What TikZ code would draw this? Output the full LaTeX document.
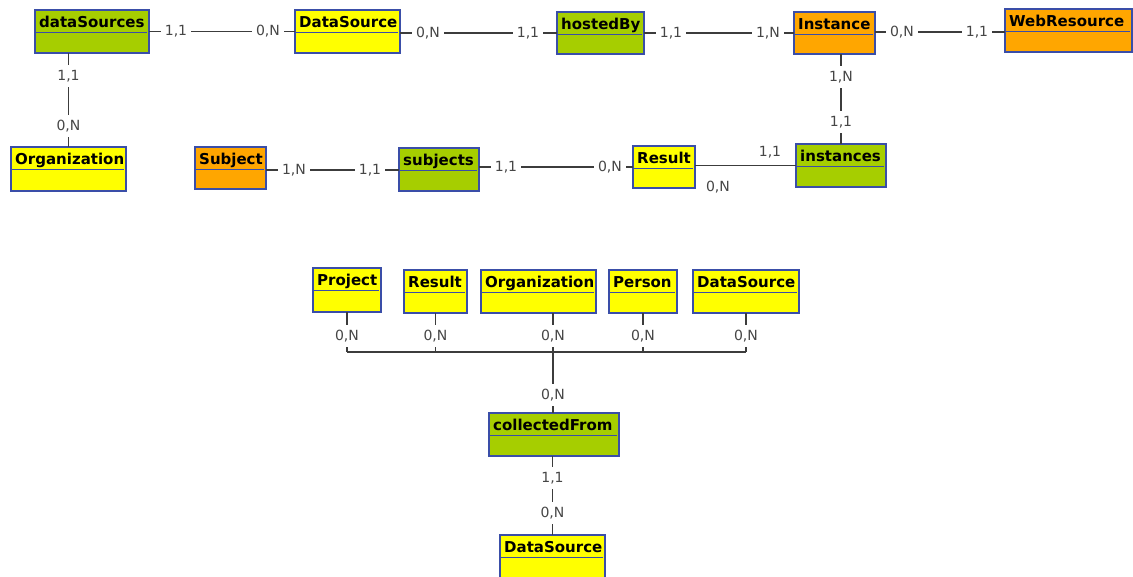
\documentclass[tikz,border=0pt]{standalone}
\usepackage{fontspec}
\setmainfont{DejaVu Sans}
\usetikzlibrary{calc}

\definecolor{entgreen}{RGB}{166,206,0}
\definecolor{entyellow}{RGB}{255,255,0}
\definecolor{entorange}{RGB}{255,166,0}
\definecolor{entborder}{RGB}{58,78,168}
\definecolor{linkgray}{RGB}{60,60,60}
\definecolor{labelgray}{RGB}{70,70,70}

\tikzset{
  ent/.style={draw=entborder, line width=1.1pt, inner sep=0pt, outer sep=0pt, anchor=north west},
  enttitle/.style={anchor=base west, inner sep=0pt, font=\fontsize{15}{15}\selectfont\bfseries},
  card/.style={fill=white, inner xsep=4pt, inner ysep=5pt, text=labelgray,
    font=\fontsize{14}{14}\selectfont, text height=10pt, text depth=2pt},
  freecard/.style={card, fill=none},
  link/.style={draw=linkgray, line width=1.2pt}
}

% entity box: name, left, top, width, height, fill colour, title
\newcommand\ent[7]{%
  \node[ent, fill=#6, minimum width=#4pt, minimum height=#5pt] (#1) at (#2,#3) {};
  \node[enttitle] (#1-t) at ($(#1.north west)+(4,17)$) {#7};
  \draw[entborder, line width=0.9pt] ($(#1.north west)+(0,22)$) -- ($(#1.north east)+(-2,22)$);
}

\begin{document}
\begin{tikzpicture}[x=1pt,y=-1pt]
  \fill[white] (0,0) rectangle (1133,576);
  \useasboundingbox (0,0) rectangle (1133,576);
  \clip (0,0) rectangle (1133,576);

  % ---- connectors (drawn first, labels sit on top) ----
  \coordinate (bar) at (553,352);

  % entities of the upper schema
  \ent{dataSources}{35}{10}{114}{43}{entgreen}{dataSources}
  \ent{dsA}{295}{10}{105}{43}{entyellow}{DataSource}
  \ent{hostedBy}{557}{12}{87}{42}{entgreen}{hostedBy}
  \ent{Instance}{794}{12}{81}{42}{entorange}{Instance}
  \ent{WebResource}{1005}{9}{127}{43}{entorange}{WebResource}
  \ent{orgA}{11}{147}{115}{44}{entyellow}{Organization}
  \ent{Subject}{195}{147}{71}{42}{entorange}{Subject}
  \ent{subjects}{399}{148}{80}{43}{entgreen}{subjects}
  \ent{resA}{633}{146}{62}{42}{entyellow}{Result}
  \ent{instances}{796}{144}{90}{43}{entgreen}{instances}

  % entities of the lower schema
  \ent{Project}{313}{268}{68}{44}{entyellow}{Project}
  \ent{resB}{404}{270}{63}{43}{entyellow}{Result}
  \ent{orgB}{481}{270}{115}{43}{entyellow}{Organization}
  \ent{Person}{609}{270}{68}{43}{entyellow}{Person}
  \ent{dsB}{693}{270}{106}{43}{entyellow}{DataSource}
  \ent{collectedFrom}{489}{413}{130}{43}{entgreen}{collectedFrom}
  \ent{dsC}{500}{535}{105}{45}{entyellow}{DataSource}

  % upper horizontal links
  \draw[link] (dataSources.east) -- (dataSources.east -| dsA.west);
  \node[card] at ($(dataSources.east)+(27,0)$) {1,1};
  \node[card] at ($(dsA.west |- dataSources.east)+(-27,0)$) {0,N};

  \draw[link] (hostedBy.west -| dsA.east) -- (hostedBy.west);
  \node[card] at ($(hostedBy.west -| dsA.east)+(28,0)$) {0,N};
  \node[card] at ($(hostedBy.west)+(-29,0)$) {1,1};

  \draw[link] (hostedBy.east) -- (hostedBy.east -| Instance.west);
  \node[card] at ($(hostedBy.east)+(27,0)$) {1,1};
  \node[card] at ($(hostedBy.east -| Instance.west)+(-26,0)$) {1,N};

  \draw[link] ($(Instance.east)+(0,-1)$) coordinate (iw) -- (iw -| WebResource.west);
  \node[card] at ($(iw)+(27,0)$) {0,N};
  \node[card] at ($(iw -| WebResource.west)+(-28,0)$) {1,1};

  % upper vertical links
  \draw[link] (orgA.north) -- (orgA.north |- dataSources.south);
  \node[card] at ($(orgA.north |- dataSources.south)+(0,23)$) {1,1};
  \node[card] at ($(orgA.north)+(0,-21)$) {0,N};

  \draw[link] (instances.north) -- (instances.north |- Instance.south);
  \node[card] at ($(instances.north |- Instance.south)+(0,23)$) {1,N};
  \node[card] at ($(instances.north)+(0,-22)$) {1,1};

  % middle row links
  \draw[link] ($(Subject.east)+(0,2)$) coordinate (sw) -- (sw -| subjects.west);
  \node[card] at ($(sw)+(28,0)$) {1,N};
  \node[card] at ($(sw -| subjects.west)+(-29,0)$) {1,1};

  \draw[link] (resA.west -| subjects.east) -- (resA.west);
  \node[card] at ($(resA.west -| subjects.east)+(27,0)$) {1,1};
  \node[card] at ($(resA.west)+(-23,0)$) {0,N};

  \draw[link] (instances.west -| resA.east) -- (instances.west);
  \node[freecard] at ($(instances.west)+(-26,-13)$) {1,1};
  \node[freecard] at ($(instances.west -| resA.east)+(23,22)$) {0,N};

  % lower schema: shared bar into collectedFrom
  \draw[link] (Project.south |- bar) -- (dsB.south |- bar);
  \foreach \e/\gap in {Project/24, resB/23, Person/23, dsB/23}{
    \draw[link] (\e.south) -- (\e.south |- bar);
    \node[card] at ($(\e.south)+(0,\gap)$) {0,N};
  }
  \draw[link] (orgB.south -| bar) -- (bar) -- (collectedFrom.north -| bar);
  \node[card] at ($(orgB.south -| bar)+(0,23)$) {0,N};
  \node[card] at ($(collectedFrom.north -| bar)+(0,-18)$) {0,N};

  \draw[link] (dsC.north) -- (dsC.north |- collectedFrom.south);
  \node[card] at ($(dsC.north |- collectedFrom.south)+(0,22)$) {1,1};
  \node[card] at ($(dsC.north)+(0,-22)$) {0,N};
\end{tikzpicture}
\end{document}
